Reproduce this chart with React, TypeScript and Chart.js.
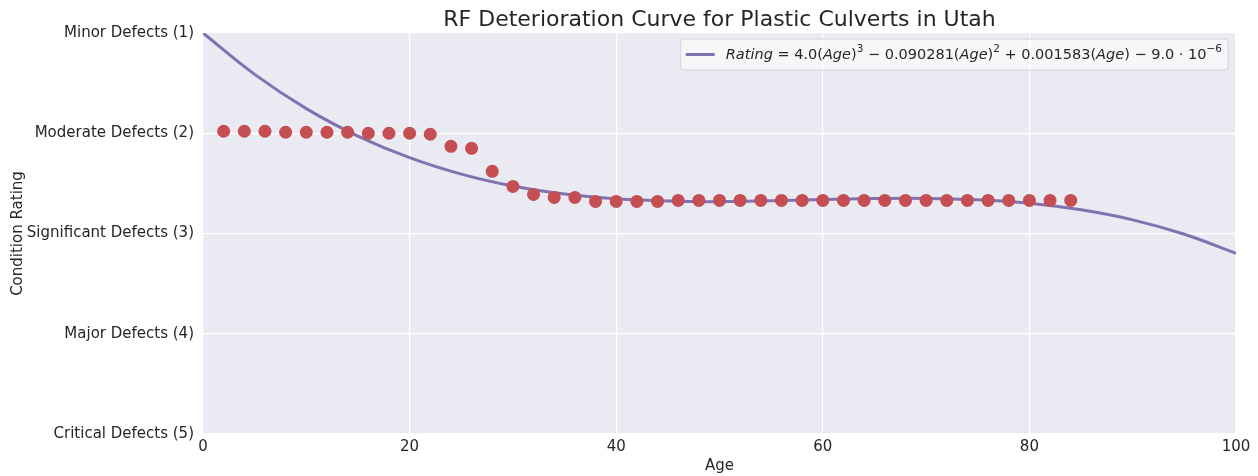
import React, { useEffect, useRef } from "react";
import { Chart, registerables } from "chart.js";

Chart.register(...registerables);

const observedAges = [2, 4, 6, 8, 10, 12, 14, 16, 18, 20, 22, 24, 26, 28, 30, 32, 34, 36, 38, 40, 42, 44, 46, 48, 50, 52, 54, 56, 58, 60, 62, 64, 66, 68, 70, 72, 74, 76, 78, 80, 82, 84];
const observedRatings = [1.98, 1.98, 1.98, 1.99, 1.99, 1.99, 1.99, 2.0, 2.0, 2.0, 2.01, 2.13, 2.15, 2.38, 2.53, 2.61, 2.64, 2.64, 2.68, 2.68, 2.68, 2.68, 2.67, 2.67, 2.67, 2.67, 2.67, 2.67, 2.67, 2.67, 2.67, 2.67, 2.67, 2.67, 2.67, 2.67, 2.67, 2.67, 2.67, 2.67, 2.67, 2.67];

const curveAges = [0, 5, 10, 15, 20, 25, 30, 35, 40, 45, 50, 55, 60, 65, 70, 75, 80, 85, 90, 95, 100];
const curveRatings = [1.0, 1.413, 1.754, 2.028, 2.244, 2.408, 2.527, 2.607, 2.654, 2.677, 2.682, 2.674, 2.662, 2.652, 2.65, 2.664, 2.699, 2.764, 2.864, 3.007, 3.198];

const yTickLabels = ["Minor Defects (1)", "Moderate Defects (2)", "Significant Defects (3)", "Major Defects (4)", "Critical Defects (5)"];
const xTicks = [0, 20, 40, 60, 80, 100];

const chartTitle = "RF Deterioration Curve for Plastic Culverts in Utah";
const xTitle = "Age";
const yTitle = "Condition Rating";

const FONT = "'DejaVu Sans', sans-serif";
const TEXT = "#262626";
const BG = "#EAEAF2";
const LINE = "#8172B2";
const DOT = "#C44E52";

type Seg = { t: string; italic?: boolean; sup?: boolean };
const legendSegs: Seg[] = [
  { t: "Rating", italic: true },
  { t: " = 4.0(" },
  { t: "Age", italic: true },
  { t: ")" },
  { t: "3", sup: true },
  { t: " \u2212 0.090281(" },
  { t: "Age", italic: true },
  { t: ")" },
  { t: "2", sup: true },
  { t: " + 0.001583(" },
  { t: "Age", italic: true },
  { t: ") \u2212 9.0 \u00b7 10" },
  { t: "\u22126", sup: true },
];

const decorPlugin = {
  id: "decor",
  beforeDraw(chart: any) {
    const { ctx, chartArea } = chart;
    ctx.save();
    ctx.fillStyle = BG;
    ctx.fillRect(chartArea.left, chartArea.top, chartArea.right - chartArea.left, chartArea.bottom - chartArea.top);
    ctx.restore();
  },
  afterDraw(chart: any) {
    const { ctx, chartArea } = chart;
    ctx.save();
    ctx.fillStyle = TEXT;
    ctx.font = `22px ${FONT}`;
    ctx.textAlign = "center";
    ctx.textBaseline = "middle";
    ctx.fillText(chartTitle, (chartArea.left + chartArea.right) / 2, 20);

    const fontN = `14.5px ${FONT}`;
    const fontI = `italic 14.5px ${FONT}`;
    const fontS = `10.5px ${FONT}`;
    let w = 0;
    for (const s of legendSegs) {
      ctx.font = s.sup ? fontS : s.italic ? fontI : fontN;
      w += ctx.measureText(s.t).width;
    }
    const boxRight = chartArea.right - 8;
    const boxTop = chartArea.top + 6;
    const boxH = 31;
    const textStart = boxRight - 6 - w;
    const boxLeft = textStart - 45;
    ctx.beginPath();
    const r = 3;
    const bw = boxRight - boxLeft;
    ctx.moveTo(boxLeft + r, boxTop);
    ctx.arcTo(boxLeft + bw, boxTop, boxLeft + bw, boxTop + boxH, r);
    ctx.arcTo(boxLeft + bw, boxTop + boxH, boxLeft, boxTop + boxH, r);
    ctx.arcTo(boxLeft, boxTop + boxH, boxLeft, boxTop, r);
    ctx.arcTo(boxLeft, boxTop, boxLeft + bw, boxTop, r);
    ctx.closePath();
    ctx.fillStyle = "rgba(255,255,255,0.6)";
    ctx.fill();
    ctx.strokeStyle = "#D4D4DA";
    ctx.lineWidth = 1;
    ctx.stroke();
    const cy = boxTop + boxH / 2;
    ctx.strokeStyle = LINE;
    ctx.lineWidth = 3;
    ctx.beginPath();
    ctx.moveTo(boxLeft + 5, cy);
    ctx.lineTo(boxLeft + 34, cy);
    ctx.stroke();
    let x = textStart;
    ctx.textAlign = "left";
    ctx.textBaseline = "middle";
    ctx.fillStyle = TEXT;
    for (const s of legendSegs) {
      ctx.font = s.sup ? fontS : s.italic ? fontI : fontN;
      ctx.fillText(s.t, x, s.sup ? cy - 5 : cy + 1);
      x += ctx.measureText(s.t).width;
    }
    ctx.restore();
  },
};

export default function App() {
  const ref = useRef<HTMLCanvasElement | null>(null);
  useEffect(() => {
    document.body.style.margin = "0";
    const canvas = ref.current;
    if (!canvas) return;
    const chart = new Chart(canvas, {
      type: "scatter",
      data: {
        datasets: [
          {
            type: "line",
            label: "fit",
            data: curveAges.map((a, i) => ({ x: a, y: curveRatings[i] })),
            borderColor: LINE,
            borderWidth: 3,
            pointRadius: 0,
            fill: false,
            tension: 0.4,
            order: 2,
          } as any,
          {
            label: "observed",
            data: observedAges.map((a, i) => ({ x: a, y: observedRatings[i] })),
            backgroundColor: DOT,
            borderColor: DOT,
            pointRadius: 6.5,
            borderWidth: 0,
            order: 1,
          },
        ],
      },
      options: {
        responsive: false,
        animation: false,
        events: [],
        layout: { padding: { top: 33, right: 22, left: 0, bottom: 0 } },
        plugins: { legend: { display: false }, title: { display: false }, tooltip: { enabled: false } },
        scales: {
          x: {
            type: "linear",
            min: 0,
            max: 100,
            afterBuildTicks: (s: any) => {
              s.ticks = xTicks.map((v) => ({ value: v }));
            },
            afterFit: (s: any) => {
              s.height = 42;
            },
            border: { display: false },
            grid: { color: "#FFFFFF", lineWidth: 1.2, drawTicks: false },
            ticks: { color: TEXT, font: { family: FONT, size: 15 }, padding: 4, maxRotation: 0 },
            title: { display: true, text: xTitle, color: TEXT, font: { family: FONT, size: 15 }, padding: { top: 0, bottom: 1 } },
          },
          y: {
            type: "linear",
            min: 1,
            max: 5,
            reverse: true,
            afterBuildTicks: (s: any) => {
              s.ticks = yTickLabels.map((_, i) => ({ value: i + 1 }));
            },
            afterFit: (s: any) => {
              s.width = 203;
            },
            border: { display: false },
            grid: { color: "#FFFFFF", lineWidth: 1.2, drawTicks: false },
            ticks: {
              color: TEXT,
              font: { family: FONT, size: 15 },
              padding: 9,
              callback: (v: any) => yTickLabels[Math.round(Number(v)) - 1] ?? "",
            },
            title: { display: true, text: yTitle, color: TEXT, font: { family: FONT, size: 15 }, padding: { top: 9, bottom: 0 } },
          },
        },
      },
      plugins: [decorPlugin],
    });
    return () => chart.destroy();
  }, []);
  return (
    <div style={{ width: 1258, height: 476 }}>
      <canvas ref={ref} width={1258} height={476} />
    </div>
  );
}
